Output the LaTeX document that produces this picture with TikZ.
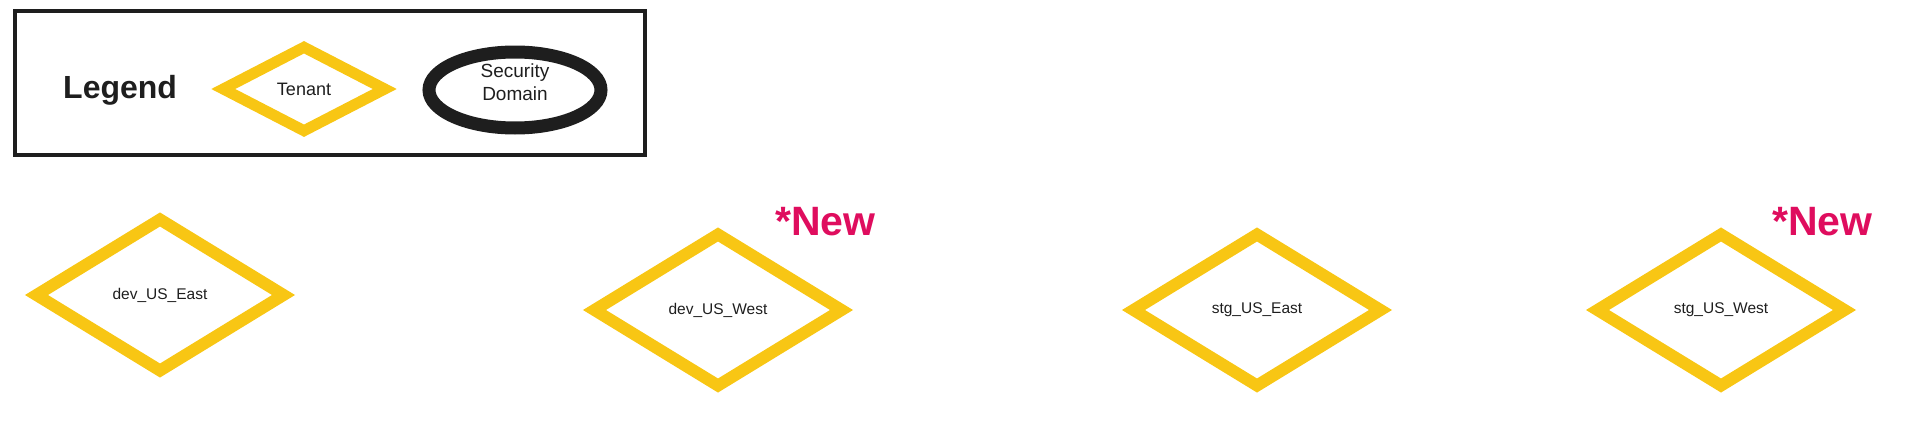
\documentclass[tikz,border=0pt]{standalone}
\usepackage{fontspec}
\setmainfont{Liberation Sans}
\usepackage{tikz}
\usetikzlibrary{shapes.geometric}
\definecolor{tenantgold}{HTML}{F8C614}
\definecolor{darkink}{HTML}{1E1E1E}
\definecolor{newpink}{HTML}{DF0D5E}

\begin{document}
\begin{tikzpicture}[x=1pt,y=-1pt,
      every node/.style={text=darkink},
      tenant/.style={diamond,draw=tenantgold,line width=12pt,inner sep=0pt,
        minimum width=252pt,minimum height=156pt,font=\fontsize{15.5}{18}\selectfont},
      legendtenant/.style={tenant,line width=11pt,minimum width=166pt,minimum height=88pt,
        font=\fontsize{18}{20}\selectfont},
      secdomain/.style={ellipse,draw=darkink,line width=13pt,inner sep=0pt,
        minimum width=172pt,minimum height=76pt},
      newtag/.style={anchor=base west,inner sep=0pt,text=newpink,font=\bfseries\fontsize{41}{44}\selectfont}]
      \useasboundingbox (0,0) rectangle (1920,423);
      % legend
      \draw[line width=4pt,darkink] (15,11) rectangle (645,155);
      \node[anchor=base west,inner sep=0pt,font=\bfseries\fontsize{32}{36}\selectfont] (legend) at (63,98) {Legend};
      \node[legendtenant] (tenantkey) at (304,89) {Tenant};
      \node[secdomain] (domainkey) at (515,90) {};
      \node[align=center,font=\fontsize{19}{23}\selectfont] (domaintext) at ([yshift=8pt]domainkey.center) {Security\\Domain};
      % tenants
      \node[tenant] (devEast) at (160,295) {dev\_US\_East};
      \node[tenant] (devWest) at (718,310) {dev\_US\_West};
      \node[tenant] (stgEast) at (1257,310) {stg\_US\_East};
      \node[tenant] (stgWest) at (1721,310) {stg\_US\_West};
      \node[newtag] (devWestNew) at (775,235) {*New};
      \node[newtag] (stgWestNew) at (1772,235) {*New};
\end{tikzpicture}
\end{document}
